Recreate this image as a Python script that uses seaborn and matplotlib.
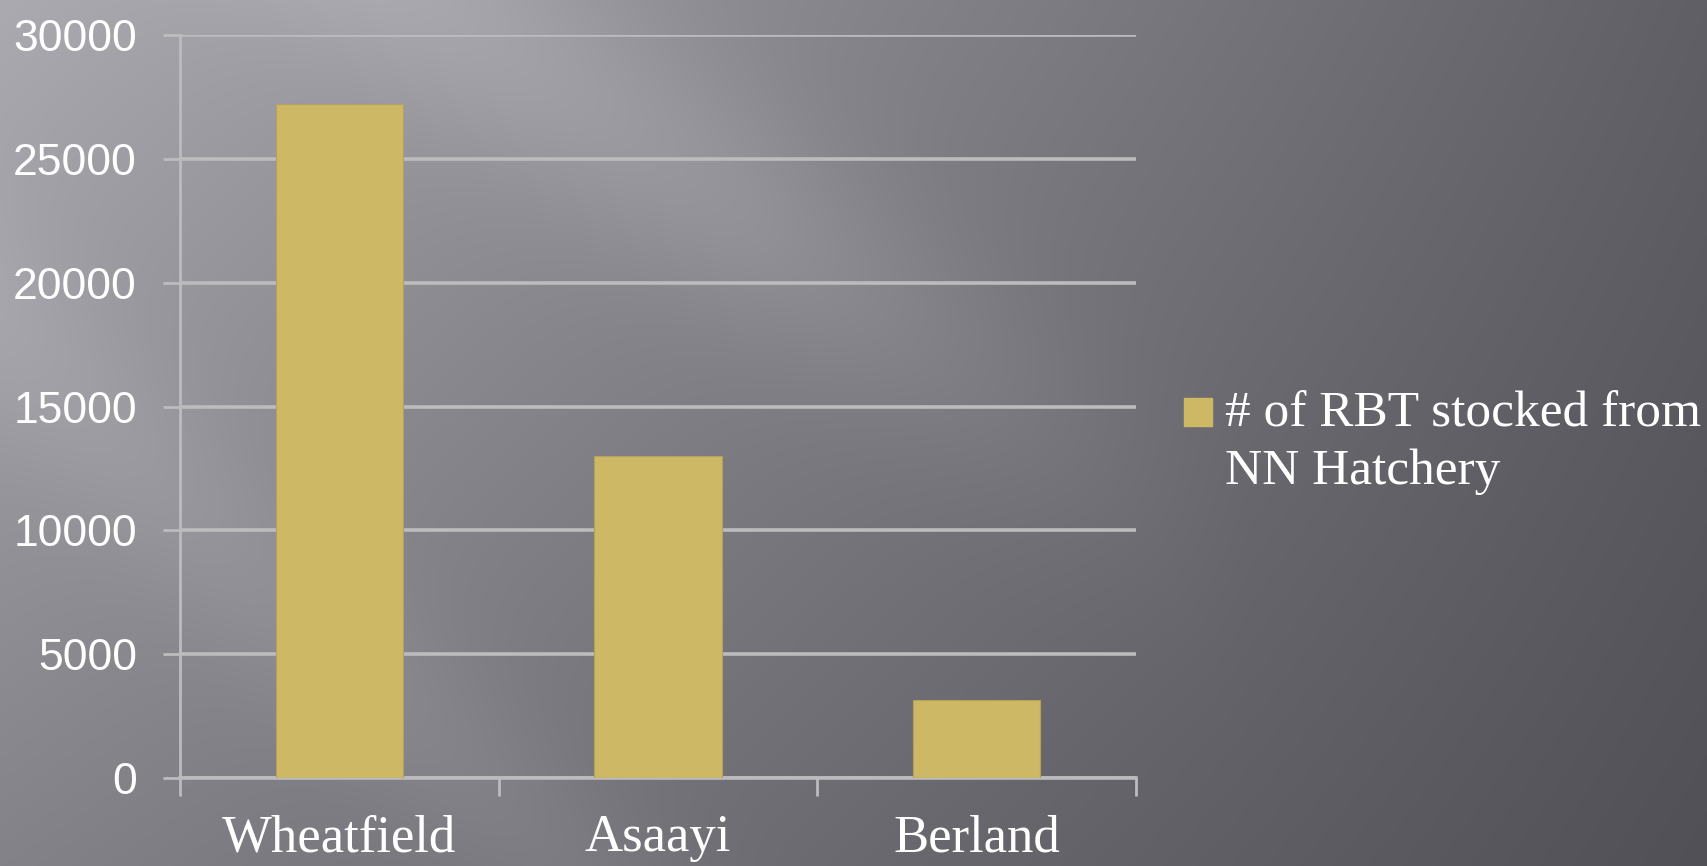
import matplotlib
matplotlib.use("Agg")
import matplotlib.pyplot as plt
from matplotlib.patches import Rectangle
from matplotlib.legend_handler import HandlerPatch
import seaborn as sns
import numpy as np
import pandas as pd

# values
sites = ["Wheatfield", "Asaayi", "Berland"]
rbt_stocked = [27200, 13000, 3150]
series_label = "# of RBT stocked from\nNN Hatchery"
y_ticks = [0, 5000, 10000, 15000, 20000, 25000, 30000]

df = pd.DataFrame({"site": sites, "stocked": rbt_stocked})

bar_color = "#cdb866"
grid_color = "#bcbbbe"

fig = plt.figure(figsize=(17.08, 8.66), dpi=100)

# grey slide background with a couple of soft diagonal streaks
h, w = 866, 1708
yy, xx = np.mgrid[0:h, 0:w].astype(float)
xn, yn = xx / w, yy / h
d1 = (np.array([770.0, 520.0]) / np.hypot(770, 520))
dist1 = np.abs((xx - 430) * d1[1] - yy * d1[0])
d2 = (np.array([560.0, 536.0]) / np.hypot(560, 536))
dist2 = np.abs(xx * d2[1] - (yy - 330) * d2[0])
fade = np.clip((1250 - xx) / 500, 0, 1)
v = 172 - 75 * xn - 40 * yn + 25 * xn * yn
v += fade * (16 * np.exp(-(dist1 / 110) ** 2) + 10 * np.exp(-(dist2 / 90) ** 2))
img = np.clip(np.dstack([v, v - 2, v + 5]) / 255, 0, 1)

bg = fig.add_axes([0, 0, 1, 1], zorder=-1)
bg.imshow(img, aspect="auto")
bg.axis("off")

ax = fig.add_axes([0.1054, 0.1016, 0.5597, 0.858])
ax.patch.set_alpha(0)

sns.barplot(data=df, x="site", y="stocked", color=bar_color, saturation=1,
            width=0.4, edgecolor="#b5a258", linewidth=0.8, zorder=3, ax=ax)

ax.set_ylim(0, 30000)
ax.set_xlim(-0.5, 2.5)
ax.set_yticks(y_ticks)
ax.set_yticklabels([str(t) for t in y_ticks], fontfamily="Liberation Sans")
ax.yaxis.grid(True, color=grid_color, linewidth=2.6)
ax.set_axisbelow(True)
ax.tick_params(axis="y", length=12, width=2, color=grid_color,
               labelcolor="white", labelsize=32, pad=19)

# ticks at category boundaries, labels at centres
ax.set_xticks([-0.5, 0.5, 1.5, 2.5])
ax.set_xticklabels([])
ax.set_xticks([0, 1, 2], minor=True)
ax.set_xticklabels(sites, minor=True, fontfamily="Liberation Serif")
ax.tick_params(axis="x", which="major", length=13, width=2, color=grid_color)
ax.tick_params(axis="x", which="minor", length=0, labelcolor="white",
               labelsize=38, pad=26)
ax.set_xlabel("")
ax.set_ylabel("")

for s in ["top", "right"]:
    ax.spines[s].set_visible(False)
ax.spines["left"].set_color(grid_color)
ax.spines["left"].set_linewidth(2)
ax.spines["bottom"].set_color(grid_color)
ax.spines["bottom"].set_linewidth(2.6)


def top_square(legend, orig_handle, xdescent, ydescent, width, height, fontsize):
    return Rectangle((-xdescent, -ydescent + height - width), width, width)


proxy = Rectangle((0, 0), 1, 1, color=bar_color)
leg = fig.legend(handles=[proxy], labels=[series_label],
                 handler_map={Rectangle: HandlerPatch(patch_func=top_square)},
                 loc="upper left", bbox_to_anchor=(0.693, 0.548), frameon=False,
                 borderpad=0, borderaxespad=0, handlelength=0.55, handleheight=2.45,
                 handletextpad=0.25, labelcolor="white",
                 prop={"family": "Liberation Serif", "size": 37})
for t in leg.get_texts():
    t.set_linespacing(1.3)

fig.savefig("out.png", dpi=100)
